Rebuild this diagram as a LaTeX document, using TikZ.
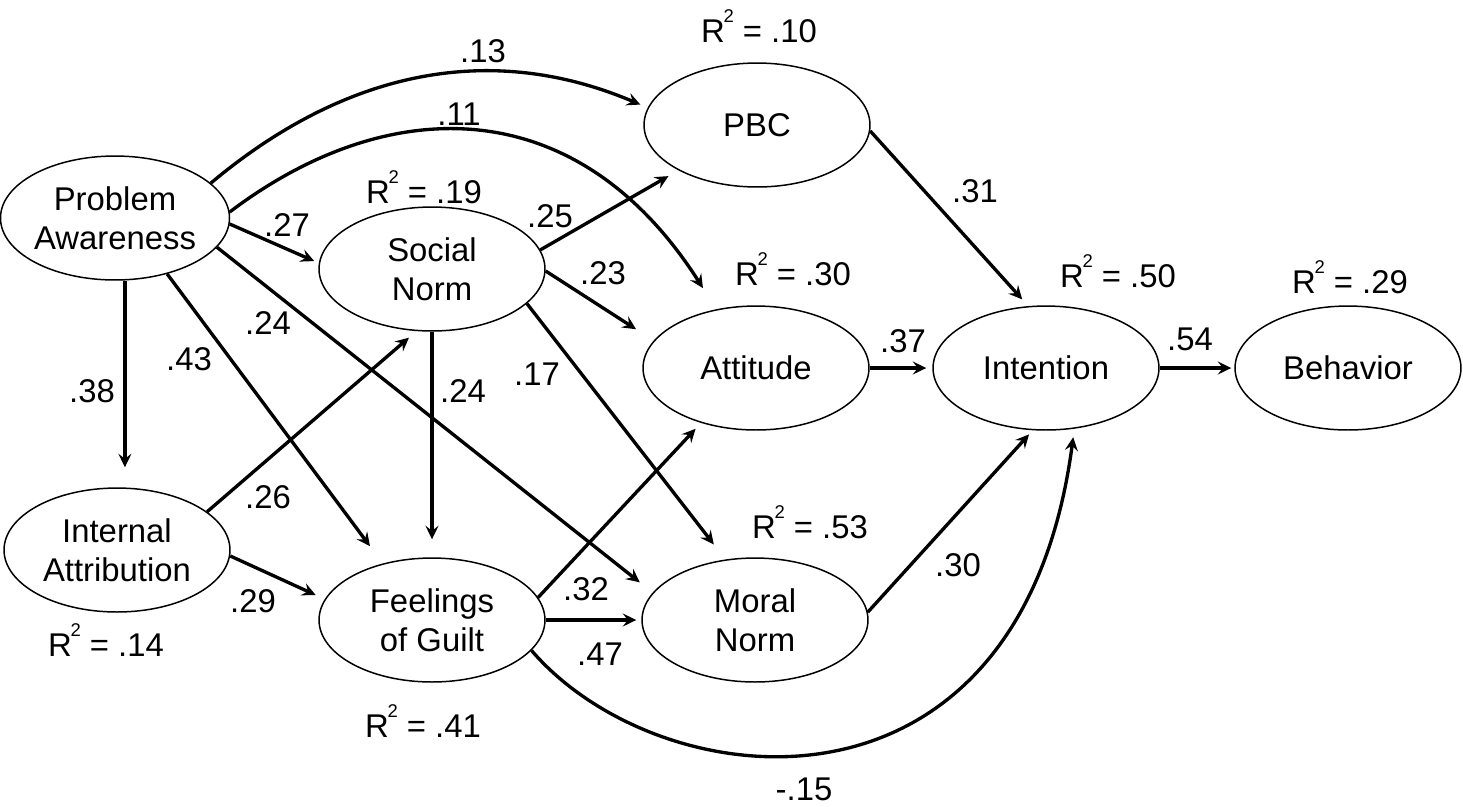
\documentclass[tikz,border=0pt]{standalone}
\usepackage{fontspec}
\setmainfont{Liberation Sans}
\usetikzlibrary{arrows.meta,shapes.geometric}
\newcommand{\rsq}[1]{R\kern-0.04em\raisebox{0.6em}{\fontsize{10.5}{12}\selectfont 2}\ = #1}

\begin{document}
\begin{tikzpicture}[x=0.02cm, y=-0.02cm, font=\fontsize{18.7}{22}\selectfont, var/.style={ellipse, draw, line width=0.85pt, minimum width=4.52cm, minimum height=2.48cm, inner sep=0pt, align=center}, arrow/.style={-{Stealth[length=0.27cm,width=0.26cm,inset=0.1cm]}, line width=1.9pt}, lbl/.style={anchor=base, inner sep=0pt}]
\useasboundingbox (0,0) rectangle (1463,806);
\node[var] (pa) at (115,218) {Problem\\Awareness};
\node[var] (ia) at (117,550) {Internal\\Attribution};
\node[var] (sn) at (432,269) {Social\\Norm};
\node[var] (fg) at (432,620) {Feelings\\of Guilt};
\node[var] (pbc) at (757,125) {PBC};
\node[var] (att) at (756,368) {Attitude};
\node[var] (mn) at (755,620) {Moral\\Norm};
\node[var] (int) at (1046,368) {Intention};
\node[var] (beh) at (1348,368) {Behavior};
\node[lbl] (r2pbc) at (759,42) {\rsq{.10}};
\node[lbl] (r2sn) at (424,203) {\rsq{.19}};
\node[lbl] (r2att) at (793,285) {\rsq{.30}};
\node[lbl] (r2int) at (1118,287) {\rsq{.50}};
\node[lbl] (r2beh) at (1350,293) {\rsq{.29}};
\node[lbl] (r2mn) at (810,538) {\rsq{.53}};
\node[lbl] (r2fg) at (423,737) {\rsq{.41}};
\node[lbl] (r2ia) at (106,656) {\rsq{.14}};
\draw[arrow, shorten >=0.16cm] (pa.20) to[out=40, in=157] (pbc.171);
\draw[arrow, shorten >=0.5cm] (pa.3) .. controls (388,92) and (577,90) .. (att.124);
\draw[arrow, shorten >=0.1cm] (pa.-3) -- (sn.177);
\draw[arrow, shorten >=0.4cm] (pa.-81) -- (pa.-81 |- ia.north);
\draw[arrow, shorten >=0.43cm] (pa.-47) -- (fg.131);
\draw[arrow, shorten >=0.33cm] (pa.-16) -- (mn.165);
\draw[arrow, shorten >=0.2cm] (ia.23) -- (sn.-104);
\draw[arrow, shorten >=0.2cm] (ia.-3) -- (fg.169);
\draw[arrow, shorten >=0.36cm] (sn.south) -- (fg.north);
\draw[arrow, shorten >=0.23cm] (sn.10) -- (pbc.210);
\draw[arrow, shorten >=0.42cm] (sn.-1) -- (att.165);
\draw[arrow, shorten >=0.38cm] (sn.-20) -- (mn.116);
\draw[arrow, shorten >=0.16cm] (fg.12) -- (att.225);
\draw[arrow, shorten >=0.1cm] (fg.east) -- (mn.west);
\draw[arrow, shorten >=0.17cm] (fg.-17) .. controls (660,800) and (1020,840) .. (int.-65);
\draw[arrow, shorten >=0.18cm] (pbc.-3) -- (int.106);
\draw[arrow, shorten >=0.12cm] (att.east) -- (int.west);
\draw[arrow, shorten >=0.11cm] (mn.4) -- (int.-102);
\draw[arrow, shorten >=0.06cm] (int.east) -- (beh.west);
\node[lbl] (c13) at (483,62) {.13};
\node[lbl] (c11) at (459,125) {.11};
\node[lbl] (c27) at (287,236) {.27};
\node[lbl] (c38) at (92,402) {.38};
\node[lbl] (c43) at (189,370) {.43};
\node[lbl] (c24a) at (268,334) {.24};
\node[lbl] (c26) at (268,508) {.26};
\node[lbl] (c29) at (253,612) {.29};
\node[lbl] (c24b) at (463,402) {.24};
\node[lbl] (c17) at (537,385) {.17};
\node[lbl] (c25) at (550,227) {.25};
\node[lbl] (c23) at (603,284) {.23};
\node[lbl] (c32) at (586,600) {.32};
\node[lbl] (c47) at (600,665) {.47};
\node[lbl] (c15) at (804,800) {-.15};
\node[lbl] (c30) at (958,576) {.30};
\node[lbl] (c31) at (975,202) {.31};
\node[lbl] (c37) at (903,352) {.37};
\node[lbl] (c54) at (1190,350) {.54};
\end{tikzpicture}
\end{document}
